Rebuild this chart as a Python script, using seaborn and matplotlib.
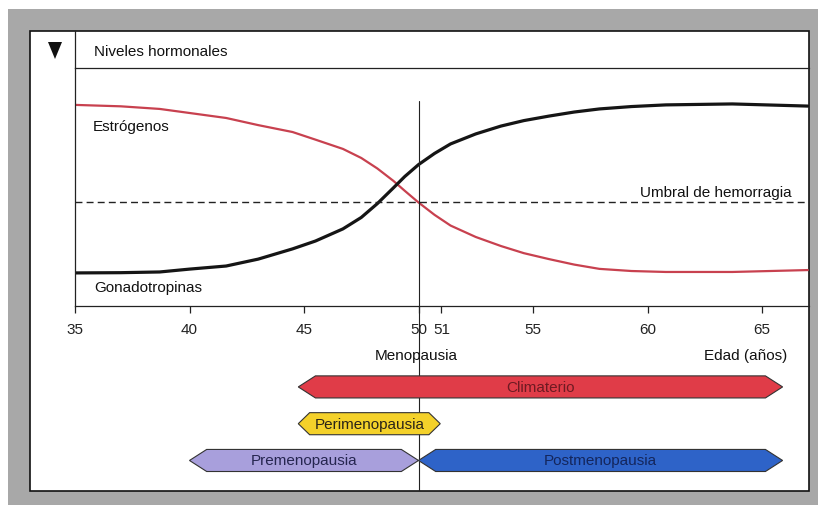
import numpy as np
import pandas as pd
import matplotlib
matplotlib.use("Agg")
import matplotlib.pyplot as plt
from matplotlib.patches import Rectangle, Polygon
from matplotlib.lines import Line2D
import seaborn as sns

# ---------------- data ----------------
ages = [35, 37, 38.7, 40, 41.6, 43, 44.5, 45.5, 46.7, 47.5, 48.2, 48.9, 49.4, 50, 50.7,
        51.4, 52.5, 53.6, 54.6, 55.7, 56.8, 57.9, 59.3, 60.8, 63.7, 67]
estrogenos = [84.5, 83.9, 82.8, 81.1, 79.0, 76.0, 73.1, 69.9, 66.0, 62.2, 57.8, 52.6, 48.4, 43.5, 38.3,
              33.8, 29.0, 25.2, 22.2, 19.7, 17.4, 15.6, 14.7, 14.3, 14.3, 15.1]
gonadotropinas = [13.9, 14.0, 14.3, 15.5, 16.8, 19.7, 24.0, 27.3, 32.4, 37.2, 43.0, 49.6, 54.4, 59.4, 64.1,
                  68.1, 72.3, 75.6, 77.9, 79.8, 81.5, 82.8, 83.8, 84.5, 84.9, 84.0]
umbral = 43.7
menopausia = 50
tick_values = [35, 40, 45, 50, 51, 55, 60, 65]
tick_labels = ["35", "40", "45", "50", "51", "55", "60", "65"]

bands = ["Climaterio", "Perimenopausia", "Premenopausia", "Postmenopausia"]
band_start = [44.75, 44.75, 40.0, 50.0]
band_end = [65.9, 50.95, 50.0, 65.9]
band_row = [2, 1, 0, 0]
band_fill = ["#e03c48", "#f4d12a", "#a89fdc", "#2e63c8"]
band_text = ["#6e1a22", "#2a2418", "#262650", "#14265c"]

# ---------------- figure ----------------
W, H = 818, 506
sns.set_theme(style="white")
plt.rcParams["font.family"] = ["Liberation Sans", "DejaVu Sans"]

fig = plt.figure(figsize=(W / 100, H / 100), dpi=100)
fig.patch.set_facecolor("white")

def fx(x):
    return x / W

def fy(y):
    return 1 - y / H

# gray frame and white panel
fig.add_artist(Rectangle((fx(8), 0), fx(W - 8), fy(10), transform=fig.transFigure,
                         facecolor="#a8a8a8", edgecolor="none", zorder=-5))
fig.add_artist(Rectangle((fx(30), fy(492)), fx(809 - 30), (492 - 32) / H, transform=fig.transFigure,
                         facecolor="white", edgecolor="#111111", lw=1.2, zorder=-4))
# header column line
fig.add_artist(Line2D([fx(74.7), fx(74.7)], [fy(32), fy(69)], transform=fig.transFigure,
                      color="#222222", lw=0.9))
# triangle marker
fig.add_artist(Polygon([(fx(48), fy(43)), (fx(62), fy(43)), (fx(55), fy(60))], closed=True,
                       transform=fig.transFigure, facecolor="#111111", edgecolor="none"))
fig.text(fx(94), fy(52), "Niveles hormonales", fontsize=11, ha="left", va="center", color="#111111")

# ---------------- curves axes ----------------
ax1 = fig.add_axes([fx(75), fy(307), fx(809 - 75), (307 - 69) / H])
ax1.patch.set_alpha(0)
df = pd.DataFrame({
    "Edad": ages * 2,
    "Nivel": estrogenos + gonadotropinas,
    "Hormona": ["Estrógenos"] * len(ages) + ["Gonadotropinas"] * len(ages),
})
sns.lineplot(data=df, x="Edad", y="Nivel", hue="Hormona", size="Hormona",
             palette={"Estrógenos": "#c8414f", "Gonadotropinas": "#151515"},
             sizes={"Estrógenos": 1.6, "Gonadotropinas": 2.3},
             legend=False, ax=ax1)
for ln in ax1.get_lines():
    ln.set_solid_joinstyle("round")
    ln.set_solid_capstyle("round")
ax1.set_xlim(35, 35 + (809 - 75) / 22.9)
ax1.set_ylim(0, 100)
ax1.axhline(umbral, color="#222222", lw=1.0, dashes=(5, 3))
ax1.axvline(menopausia, ymax=0.86, color="#222222", lw=0.8)
ax1.set_xlabel("")
ax1.set_ylabel("")
ax1.set_yticks([])
ax1.set_xticks(tick_values)
ax1.set_xticklabels(tick_labels)
ax1.tick_params(axis="x", direction="out", length=5, width=0.9, pad=6.5,
                labelsize=11, colors="#222222", bottom=True)
for s in ["left", "top", "bottom"]:
    ax1.spines[s].set_visible(True)
    ax1.spines[s].set_color("#222222")
    ax1.spines[s].set_linewidth(0.9)
ax1.spines["right"].set_visible(False)

ax1.text(35.79, 75.6, "Estrógenos", fontsize=11, ha="left", va="center", color="#111111")
ax1.text(35.83, 8.0, "Gonadotropinas", fontsize=11, ha="left", va="center", color="#111111")
ax1.text(66.31, 47.9, "Umbral de hemorragia", fontsize=11, ha="right", va="center", color="#111111")

fig.text(fx(416), fy(356), "Menopausia", fontsize=11, ha="center", va="center", color="#111111")
fig.text(fx(787), fy(356), "Edad (años)", fontsize=11, ha="right", va="center", color="#111111")

# ---------------- bands axes ----------------
ax2 = fig.add_axes([fx(75), fy(492), fx(809 - 75), (492 - 307) / H])
ax2.patch.set_alpha(0)
ax2.set_xlim(ax1.get_xlim())
ax2.set_ylim(-0.83, 4.2)
ax2.axis("off")
ax2.axvline(menopausia, color="#222222", lw=0.8, zorder=1)

h = 0.3
for name, s, e, r, fc, tc in zip(bands, band_start, band_end, band_row, band_fill, band_text):
    tip = min(0.75, 0.08 * (e - s))
    pts = [(s, r), (s + tip, r + h), (e - tip, r + h), (e, r), (e - tip, r - h), (s + tip, r - h)]
    ax2.add_patch(Polygon(pts, closed=True, facecolor=fc, edgecolor="#333333", lw=0.8, zorder=2))
    ax2.text((s + e) / 2, r, name, fontsize=11, ha="center", va="center", color=tc, zorder=3)

fig.savefig("out.png", dpi=100, facecolor=fig.get_facecolor())
